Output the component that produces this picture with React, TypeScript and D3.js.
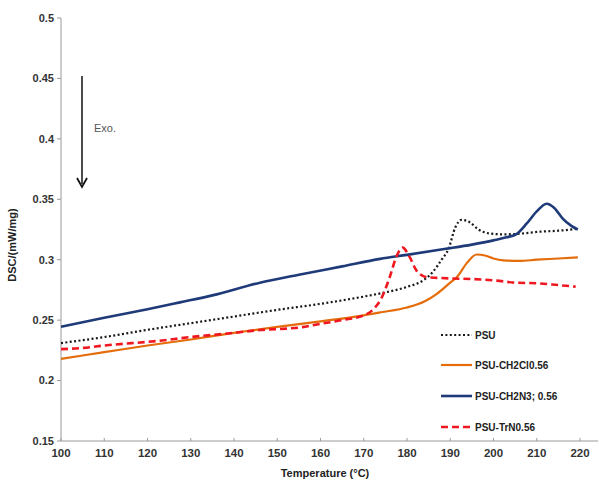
import React from "react";
import * as d3 from "d3";

// DSC heating traces: temperature (°C) and heat flow (mW/mg)
const psuT = [100, 110, 120, 130, 140, 150, 160, 170, 175, 180, 184, 186, 188, 189.6, 191.2, 192.6, 194.5, 196.5, 199, 202, 206, 210, 215, 219.5];
const psuV = [0.231, 0.236, 0.242, 0.2475, 0.253, 0.2585, 0.2635, 0.2695, 0.273, 0.2775, 0.2835, 0.290, 0.300, 0.309, 0.327, 0.333, 0.331, 0.325, 0.3218, 0.321, 0.3215, 0.323, 0.324, 0.3255];

const clT = [100, 110, 120, 130, 140, 150, 160, 170, 174, 180, 184, 187, 190, 191.5, 194, 196.1, 198, 200, 202.3, 206, 210, 215, 219.5];
const clV = [0.218, 0.2235, 0.229, 0.234, 0.2395, 0.2445, 0.249, 0.254, 0.2565, 0.2605, 0.2655, 0.272, 0.281, 0.2855, 0.298, 0.3043, 0.3035, 0.301, 0.2995, 0.299, 0.300, 0.301, 0.302];

const n3T = [100, 110, 120, 127.5, 135, 146, 155, 165, 173.8, 180, 189, 195, 200, 203, 205.4, 207.7, 210, 212.3, 214, 216, 218, 219.5];
const n3V = [0.2445, 0.252, 0.259, 0.2647, 0.2705, 0.281, 0.2875, 0.2945, 0.3007, 0.304, 0.309, 0.3125, 0.316, 0.3185, 0.3214, 0.330, 0.340, 0.3463, 0.343, 0.334, 0.328, 0.325];

const trT = [100, 105, 110, 122.9, 130, 140, 146, 155.3, 160, 165, 170.7, 172.5, 174, 176, 177.6, 179, 180.5, 182.2, 184.6, 187, 190, 195, 200.7, 205, 210, 215, 219];
const trV = [0.226, 0.227, 0.229, 0.233, 0.236, 0.2395, 0.2418, 0.244, 0.247, 0.250, 0.255, 0.260, 0.2675, 0.2855, 0.303, 0.310, 0.303, 0.291, 0.2855, 0.285, 0.2845, 0.284, 0.2827, 0.281, 0.2805, 0.279, 0.2777];

const seriesNames = ["PSU", "PSU-CH2Cl0.56", "PSU-CH2N3; 0.56", "PSU-TrN0.56"];
const xTicks = [100, 110, 120, 130, 140, 150, 160, 170, 180, 190, 200, 210, 220];
const yTicks = [0.15, 0.2, 0.25, 0.3, 0.35, 0.4, 0.45, 0.5];

const W = 599;
const H = 485;
const font = "'Liberation Sans', Arial, sans-serif";

export default function App() {
  const x = d3.scaleLinear().domain([100, 220]).range([61, 580]);
  const y = d3.scaleLinear().domain([0.15, 0.5]).range([441, 18]);

  const line = (ts: number[], vs: number[]) =>
    d3
      .line<number>()
      .x((_, i) => x(ts[i]))
      .y((v) => y(v))
      .curve(d3.curveMonotoneX)(vs) || "";

  const series = [
    { name: seriesNames[0], d: line(psuT, psuV), color: "#1a1a1a", width: 2.2, dash: "2,2.4" },
    { name: seriesNames[1], d: line(clT, clV), color: "#E46C0A", width: 2.2, dash: "" },
    { name: seriesNames[2], d: line(n3T, n3V), color: "#1F3A78", width: 2.6, dash: "" },
    { name: seriesNames[3], d: line(trT, trV), color: "#F01820", width: 2.6, dash: "7,4" },
  ];
  const legendY = [335, 365, 396, 427];

  return (
    <div style={{ position: "fixed", left: 0, top: 0 }}>
      <svg width={W} height={H} style={{ display: "block", background: "#fff" }}>
        {/* axes */}
        <line x1={61} x2={61} y1={18} y2={441} stroke="#9a9a9a" strokeWidth={1} />
        <line x1={61} x2={598} y1={441} y2={441} stroke="#9a9a9a" strokeWidth={1} />
        {yTicks.map((t) => (
          <g key={t}>
            <line x1={57} x2={61} y1={y(t)} y2={y(t)} stroke="#9a9a9a" />
            <text x={54} y={y(t)} dy="0.35em" textAnchor="end" fontFamily={font} fontSize={11} fontWeight="bold" fill="#333">
              {String(t)}
            </text>
          </g>
        ))}
        {xTicks.map((t) => (
          <g key={t}>
            <line x1={x(t)} x2={x(t)} y1={438} y2={441} stroke="#9a9a9a" />
            <text x={x(t)} y={457} textAnchor="middle" fontFamily={font} fontSize={11.5} fontWeight="bold" fill="#333">
              {t}
            </text>
          </g>
        ))}
        <text x={325} y={477} textAnchor="middle" fontFamily={font} fontSize={11} fontWeight="bold" fill="#222">
          Temperature (°C)
        </text>
        <text transform="translate(16,245) rotate(-90)" textAnchor="middle" fontFamily={font} fontSize={11} fontWeight="bold" fill="#222">
          DSC/(mW/mg)
        </text>

        {/* exotherm direction */}
        <line x1={82} x2={82} y1={76} y2={184} stroke="#111" strokeWidth={1.5} />
        <path d="M77,178 L82,187 L87,178" fill="none" stroke="#111" strokeWidth={1.8} />
        <text x={94} y={132} fontFamily={font} fontSize={11} fill="#555">
          Exo.
        </text>

        {/* traces */}
        {series.map((s) => (
          <path key={s.name} d={s.d} fill="none" stroke={s.color} strokeWidth={s.width} strokeDasharray={s.dash || undefined} strokeLinejoin="round" />
        ))}

        {/* legend */}
        {series.map((s, i) => (
          <g key={"lg" + s.name}>
            <line x1={441} x2={472} y1={legendY[i]} y2={legendY[i]} stroke={s.color} strokeWidth={s.width} strokeDasharray={s.dash || undefined} />
            <text x={475} y={legendY[i]} dy="0.35em" fontFamily={font} fontSize={10} fontWeight="bold" fill="#222">
              {s.name}
            </text>
          </g>
        ))}
      </svg>
    </div>
  );
}
